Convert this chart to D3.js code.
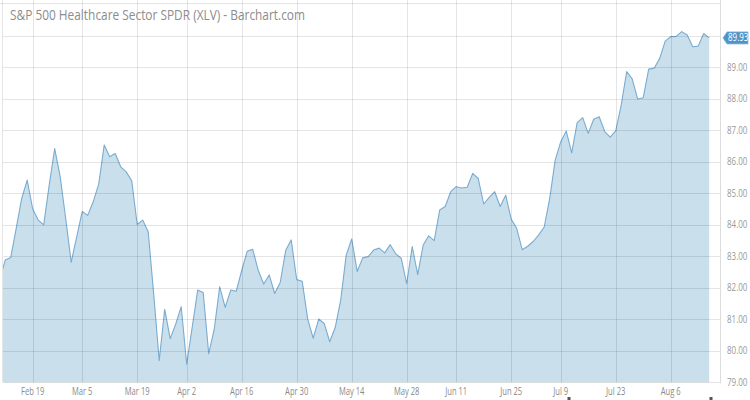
<!DOCTYPE html>
<html>
<head>
<meta charset="utf-8">
<script src="https://cdnjs.cloudflare.com/ajax/libs/d3/7.8.5/d3.min.js"></script>
<style>
  html, body { margin: 0; padding: 0; background: #fff; }
  svg { display: block; }
  text { font-family: "Open Sans", "Noto Sans", sans-serif; }
</style>
</head>
<body>
<div id="chart"></div>
<script>
// ---- data ----
const title = "S&P 500 Healthcare Sector SPDR (XLV) - Barchart.com";
const startDate = "2018-02-09";
const endDate = "2018-08-15";
const holidays = ["2018-02-19", "2018-03-30", "2018-05-28", "2018-07-04"];
const closes = [
  82.25, 82.88, 82.96, 83.89, 84.84, 85.42, 84.50, 84.15, 84.00, 85.26,
  86.42, 85.52, 84.20, 82.81, 83.62, 84.42, 84.30, 84.73, 85.29, 86.53,
  86.16, 86.26, 85.84, 85.68, 85.40, 84.01, 84.15, 83.78, 81.80, 79.69,
  81.32, 80.39, 80.85, 81.40, 79.58, 80.75, 81.93, 81.85, 79.91, 80.68,
  82.03, 81.38, 81.93, 81.89, 82.55, 83.16, 83.22, 82.56, 82.12, 82.41,
  81.82, 82.17, 83.19, 83.52, 82.26, 82.21, 81.01, 80.40, 81.01, 80.87,
  80.29, 80.74, 81.61, 83.04, 83.55, 82.52, 82.95, 82.99, 83.20, 83.26,
  83.11, 83.37, 83.08, 82.94, 82.13, 83.31, 82.42, 83.36, 83.65, 83.50,
  84.47, 84.58, 85.05, 85.21, 85.17, 85.19, 85.63, 85.47, 84.66, 84.87,
  85.05, 84.58, 84.94, 84.18, 83.89, 83.21, 83.32, 83.47, 83.68, 83.93,
  84.84, 86.05, 86.63, 86.98, 86.28, 87.24, 87.40, 86.90, 87.35, 87.43,
  86.96, 86.78, 86.98, 87.80, 88.86, 88.63, 87.99, 88.03, 88.94, 88.97,
  89.28, 89.83, 89.97, 89.98, 90.13, 90.02, 89.65, 89.67, 90.07, 89.93
];
const lastValue = 89.93;
const xTickLabels = ["Feb 19", "Mar 5", "Mar 19", "Apr 2", "Apr 16", "Apr 30", "May 14",
                     "May 28", "Jun 11", "Jun 25", "Jul 9", "Jul 23", "Aug 6"];
const xTickDates = ["2018-02-20", "2018-03-05", "2018-03-19", "2018-04-02", "2018-04-16",
                    "2018-04-30", "2018-05-14", "2018-05-29", "2018-06-11", "2018-06-25",
                    "2018-07-09", "2018-07-23", "2018-08-06"];
const yTickValues = [79, 80, 81, 82, 83, 84, 85, 86, 87, 88, 89, 90];
const yTickLabels = ["79.00", "80.00", "81.00", "82.00", "83.00", "84.00", "85.00",
                     "86.00", "87.00", "88.00", "89.00", ""];

// ---- build trading-day categories ----
const fmt = d3.timeFormat("%Y-%m-%d");
const parse = d3.timeParse("%Y-%m-%d");
const days = d3.timeDay.range(parse(startDate), d3.timeDay.offset(parse(endDate), 1))
  .filter(d => d.getDay() !== 0 && d.getDay() !== 6 && !holidays.includes(fmt(d)))
  .map(fmt);
const data = days.map((d, i) => ({ date: d, value: closes[i] })).filter(d => d.value != null);

// ---- layout ----
const W = 750, H = 400;
const pLeft = 3, pTop = 3, pRight = 720.5, pBottom = 382.4;

const svg = d3.select("#chart").append("svg").attr("width", W).attr("height", H);

const x = d3.scalePoint().domain(days).range([-0.3, 709.2]);
const y = d3.scaleLinear().domain([79, 90]).range([pBottom, 35.7]);

svg.append("clipPath").attr("id", "clip")
  .append("rect").attr("x", pLeft).attr("y", pTop).attr("width", pRight - pLeft).attr("height", pBottom - pTop);

const plot = svg.append("g").attr("clip-path", "url(#clip)");

// area fill
plot.append("path").datum(data)
  .attr("fill", "#c9dfec")
  .attr("d", d3.area().x(d => x(d.date)).y0(y(79)).y1(d => y(d.value)));

// grid
const grid = svg.append("g").attr("stroke", "#000").attr("stroke-opacity", 0.1).attr("stroke-width", 1);
grid.selectAll(".hg").data(yTickValues).join("line")
  .attr("x1", pLeft).attr("x2", pRight)
  .attr("y1", d => Math.round(y(d)) + 0.5).attr("y2", d => Math.round(y(d)) + 0.5);
grid.selectAll(".vg").data(xTickDates).join("line")
  .attr("y1", 0).attr("y2", pBottom)
  .attr("x1", d => Math.round(x(d)) + 0.5).attr("x2", d => Math.round(x(d)) + 0.5);
// frame
grid.append("line").attr("x1", pLeft - 0.5).attr("x2", pLeft - 0.5).attr("y1", 0).attr("y2", pBottom);
grid.append("line").attr("x1", 0).attr("x2", pRight).attr("y1", pTop + 0.5).attr("y2", pTop + 0.5);
svg.append("line").attr("x1", pRight).attr("x2", pRight).attr("y1", 0).attr("y2", pBottom + 1)
  .attr("stroke", "#dcdcdc");

// line
plot.append("path").datum(data)
  .attr("fill", "none")
  .attr("stroke", "#79acd0")
  .attr("stroke-width", 1.1)
  .attr("stroke-linejoin", "round")
  .attr("d", d3.line().x(d => x(d.date)).y(d => y(d.value)));

// title
svg.append("text")
  .attr("x", 10).attr("y", 20)
  .attr("font-size", 14)
  .attr("fill", "#8c8c8c")
  .attr("textLength", 295)
  .attr("lengthAdjust", "spacingAndGlyphs")
  .text(title);

// y axis labels (right)
const sx = 0.8;
svg.append("g").selectAll("text").data(yTickValues.map((v, i) => [v, yTickLabels[i]]).filter(d => d[1]))
  .join("text")
  .attr("transform", d => `translate(727,${y(d[0]) + 3.5}) scale(${sx},1)`)
  .attr("font-size", 10)
  .attr("fill", "#9a9a9a")
  .text(d => d[1]);

// x axis labels
svg.append("g").selectAll("text").data(xTickDates.map((d, i) => [d, xTickLabels[i]]))
  .join("text")
  .attr("transform", d => `translate(${x(d[0])},${395}) scale(0.76,1)`)
  .attr("text-anchor", "middle")
  .attr("font-size", 10)
  .attr("fill", "#8a8a8a")
  .text(d => d[1]);

// last value badge
const ly = y(lastValue);
const badge = svg.append("g");
badge.append("path")
  .attr("d", `M${723},${ly} L${727},${ly - 6} L${748},${ly - 6} L${748},${ly + 6} L${727},${ly + 6} Z`)
  .attr("fill", "#4f94c8")
  .attr("stroke", "#7fb3da")
  .attr("stroke-width", 0.8);
badge.append("text")
  .attr("transform", `translate(728,${ly + 3.5}) scale(${sx},1)`)
  .attr("font-size", 10)
  .attr("fill", "#fff")
  .text(lastValue.toFixed(2));

// small scrollbar handles at bottom
svg.append("g").selectAll("rect").data([569, 711]).join("rect")
  .attr("x", d => d - 1.5).attr("y", 397).attr("width", 3).attr("height", 3)
  .attr("fill", "#555");
</script>
</body>
</html>
